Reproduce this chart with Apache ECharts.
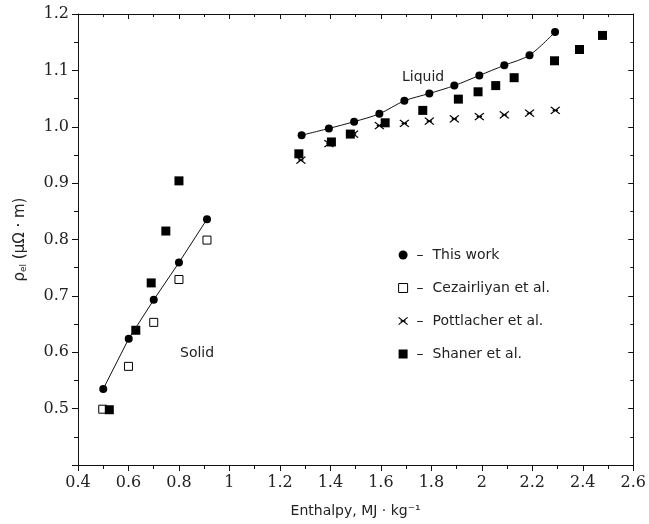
<!DOCTYPE html>
<html>
<head>
<meta charset="utf-8">
<script src="https://cdn.jsdelivr.net/npm/echarts@6/dist/echarts.min.js"></script>
<style>
  html, body { margin: 0; padding: 0; background: #fff; }
  #chart { width: 649px; height: 524px; }
</style>
</head>
<body>
<div id="chart"></div>
<script>
// Electrical resistivity vs. enthalpy — solid and liquid phases
const thisWorkSolidH   = [0.500, 0.601, 0.700, 0.800, 0.911];
const thisWorkSolidRho = [0.535, 0.624, 0.693, 0.759, 0.836];

const thisWorkLiquidH   = [1.286, 1.394, 1.494, 1.594, 1.693, 1.792, 1.891, 1.990, 2.089, 2.189, 2.290];
const thisWorkLiquidRho = [0.985, 0.997, 1.009, 1.023, 1.046, 1.059, 1.073, 1.091, 1.109, 1.127, 1.168];

const cezairliyanH   = [0.498, 0.600, 0.700, 0.800, 0.911];
const cezairliyanRho = [0.499, 0.575, 0.653, 0.729, 0.799];

const pottlacherH   = [1.283, 1.394, 1.492, 1.594, 1.693, 1.792, 1.891, 1.990, 2.089, 2.189, 2.291];
const pottlacherRho = [0.941, 0.970, 0.987, 1.002, 1.006, 1.010, 1.014, 1.018, 1.021, 1.024, 1.029];

const shanerH   = [0.524, 0.629, 0.690, 0.748, 0.800, 1.275, 1.404, 1.479, 1.617, 1.766, 1.907, 1.985, 2.055, 2.128, 2.288, 2.387, 2.478];
const shanerRho = [0.498, 0.639, 0.723, 0.815, 0.904, 0.952, 0.973, 0.987, 1.007, 1.029, 1.049, 1.062, 1.073, 1.087, 1.117, 1.137, 1.162];

const xMin = 0.4, xMax = 2.6, xStep = 0.2;
const yMin = 0.4, yMax = 1.2, yStep = 0.1;

const pairs = (xs, ys) => xs.map((x, i) => [x, ys[i]]);

const labelFont = { fontFamily: 'DejaVu Serif', fontSize: 16, color: '#222' };
const textFont = 'DejaVu Sans';

const chart = echarts.init(document.getElementById('chart'), null, { renderer: 'canvas' });

const baseX = {
  type: 'value', min: xMin, max: xMax, interval: xStep,
  splitLine: { show: false },
  axisLine: { show: true, onZero: false, lineStyle: { color: '#111', width: 1 } }
};
const baseY = {
  type: 'value', min: yMin, max: yMax, interval: yStep,
  splitLine: { show: false },
  axisLine: { show: true, onZero: false, lineStyle: { color: '#111', width: 1 } }
};

chart.setOption({
  animation: false,
  backgroundColor: '#fff',
  grid: { left: 78, right: 12, top: 14, bottom: 59, containLabel: false },
  xAxis: [
    Object.assign({}, baseX, {
      position: 'bottom',
      name: 'Enthalpy, MJ · kg⁻¹',
      nameLocation: 'middle', nameGap: 39,
      nameTextStyle: { fontFamily: textFont, fontSize: 14, color: '#222' },
      axisTick: { show: true, inside: false, length: 6, lineStyle: { color: '#111' } },
      minorTick: { show: true, splitNumber: 2, length: 4, lineStyle: { color: '#111' } },
      axisLabel: Object.assign({}, labelFont, {
        margin: 10,
        formatter: v => String(+v.toFixed(1))
      })
    }),
    Object.assign({}, baseX, {
      position: 'top',
      axisTick: { show: true, inside: true, length: 5, lineStyle: { color: '#111' } },
      minorTick: { show: true, splitNumber: 2, length: 3, lineStyle: { color: '#111' } },
      axisLabel: { show: false }
    })
  ],
  yAxis: [
    Object.assign({}, baseY, {
      position: 'left',
      name: '{rho|ρ}{sub|el}{rho| (μΩ · m)}',
      nameLocation: 'middle', nameGap: 50, nameRotate: 90,
      nameTextStyle: {
        rich: {
          rho: { fontFamily: textFont, fontSize: 15, color: '#222' },
          sub: { fontFamily: textFont, fontSize: 9, color: '#222', verticalAlign: 'bottom', padding: [6, 0, 0, 0] }
        }
      },
      axisTick: { show: true, inside: false, length: 6, lineStyle: { color: '#111' } },
      minorTick: { show: true, splitNumber: 2, length: 4, lineStyle: { color: '#111' } },
      axisLabel: Object.assign({}, labelFont, {
        margin: 9,
        formatter: v => (Math.abs(v - yMin) < 1e-9 ? '' : v.toFixed(1))
      })
    }),
    Object.assign({}, baseY, {
      position: 'right',
      axisTick: { show: true, inside: true, length: 5, lineStyle: { color: '#111' } },
      minorTick: { show: true, splitNumber: 2, length: 3, lineStyle: { color: '#111' } },
      axisLabel: { show: false }
    })
  ],
  legend: {
    orient: 'vertical',
    left: 393, top: 243,
    itemWidth: 9, itemHeight: 9, itemGap: 19,
    textStyle: { fontFamily: textFont, fontSize: 14, color: '#222', padding: [0, 0, 0, 4] },
    formatter: n => '–  ' + n,
    data: [
      { name: 'This work', icon: 'circle', itemStyle: { color: '#000', opacity: 1 } },
      { name: 'Cezairliyan et al.', icon: 'rect', itemStyle: { color: '#fff', borderColor: '#000', borderWidth: 1, opacity: 1 } },
      { name: 'Pottlacher et al.', icon: 'path://M0,0L10,8M10,0L0,8M2,4L8,4', itemStyle: { color: 'transparent', borderColor: '#000', borderWidth: 1.2, opacity: 1 } },
      { name: 'Shaner et al.', icon: 'rect', itemStyle: { color: '#000', opacity: 1 } }
    ]
  },
  graphic: [
    { type: 'text', left: 402, top: 70, style: { text: 'Liquid', fontFamily: textFont, fontSize: 14, fill: '#222' } },
    { type: 'text', left: 180, top: 346, style: { text: 'Solid', fontFamily: textFont, fontSize: 14, fill: '#222' } }
  ],
  series: [
    {
      name: 'This work', type: 'line', data: pairs(thisWorkSolidH, thisWorkSolidRho),
      symbol: 'circle', symbolSize: 8, showAllSymbol: true,
      lineStyle: { color: '#111', width: 1 }, itemStyle: { color: '#000', opacity: 1 }, z: 3
    },
    {
      name: 'This work', type: 'line', data: pairs(thisWorkLiquidH, thisWorkLiquidRho),
      symbol: 'circle', symbolSize: 8, smooth: 0.3, showAllSymbol: true,
      lineStyle: { color: '#111', width: 1 }, itemStyle: { color: '#000', opacity: 1 }, z: 3
    },
    {
      name: 'Cezairliyan et al.', type: 'scatter', data: pairs(cezairliyanH, cezairliyanRho),
      symbol: 'rect', symbolSize: 8,
      itemStyle: { color: '#fff', borderColor: '#000', borderWidth: 1, opacity: 1 }
    },
    {
      name: 'Pottlacher et al.', type: 'scatter', data: pairs(pottlacherH, pottlacherRho),
      symbol: 'path://M0,0L10,8M10,0L0,8M2,4L8,4', symbolSize: [9, 7],
      itemStyle: { color: 'transparent', borderColor: '#000', borderWidth: 1.2, opacity: 1 }
    },
    {
      name: 'Shaner et al.', type: 'scatter', data: pairs(shanerH, shanerRho),
      symbol: 'rect', symbolSize: 9,
      itemStyle: { color: '#000', opacity: 1 }
    }
  ]
});
</script>
</body>
</html>
